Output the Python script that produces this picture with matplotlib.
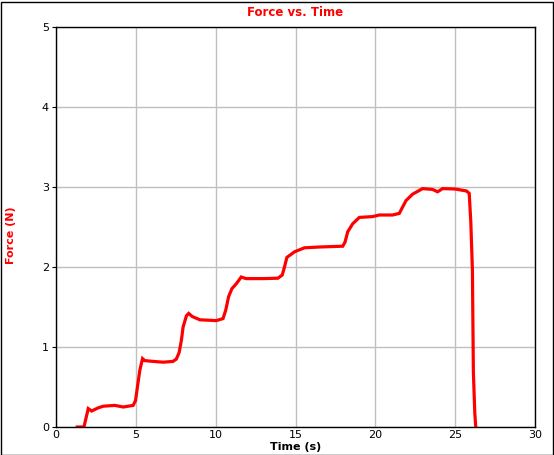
import matplotlib
matplotlib.use('Agg')
import matplotlib.pyplot as plt
from matplotlib.patches import Rectangle

# values
time_s = [1.33, 1.75, 2.02, 2.23, 2.65, 2.96, 3.69, 4.21, 4.83, 4.98, 5.10, 5.25,
          5.42, 5.56, 6.08, 6.71, 7.33, 7.54, 7.71, 7.85, 7.96, 8.17, 8.31, 8.54,
          8.90, 9.00, 10.04, 10.46, 10.63, 10.81, 11.02, 11.29, 11.60, 11.90, 12.96,
          13.90, 14.17, 14.31, 14.46, 14.94, 15.56, 16.50, 17.96, 18.10, 18.27, 18.58,
          19.00, 19.83, 20.25, 21.08, 21.50, 21.71, 21.92, 22.33, 22.96, 23.58, 23.90,
          24.21, 25.00, 25.71, 25.88, 25.98, 26.08, 26.14, 26.23, 26.29]
force_n = [0.00, 0.00, 0.23, 0.20, 0.24, 0.26, 0.27, 0.25, 0.27, 0.33, 0.50, 0.71,
           0.855, 0.83, 0.82, 0.81, 0.82, 0.85, 0.93, 1.08, 1.25, 1.39, 1.42, 1.38,
           1.35, 1.34, 1.33, 1.355, 1.46, 1.63, 1.73, 1.79, 1.875, 1.855, 1.855,
           1.86, 1.90, 2.00, 2.12, 2.19, 2.24, 2.25, 2.26, 2.31, 2.44, 2.54,
           2.62, 2.63, 2.65, 2.65, 2.67, 2.75, 2.83, 2.91, 2.98, 2.97, 2.94,
           2.98, 2.975, 2.95, 2.92, 2.56, 1.96, 0.69, 0.17, 0.00]
x_ticks = [0, 5, 10, 15, 20, 25, 30]
y_ticks = [0, 1, 2, 3, 4, 5]

W, H = 554, 455
fig = plt.figure(figsize=(W / 100, H / 100), dpi=100)
ax = fig.add_axes([56 / W, 1 - 427 / H, (535 - 56) / W, (427 - 27) / H])

ax.plot(time_s, force_n, color='#ff0000', lw=2.3, solid_joinstyle='miter')
ax.set_xlim(0, 30)
ax.set_ylim(0, 5)
ax.set_xticks(x_ticks)
ax.set_yticks(y_ticks)
ax.grid(True, color='#c0c0c0', lw=1)
ax.set_axisbelow(True)
for s in ax.spines.values():
    s.set_color('black')
    s.set_linewidth(1)
ax.tick_params(axis='y', direction='out', length=3, pad=2, labelsize=8)
ax.tick_params(axis='x', direction='out', length=0, pad=2, labelsize=8)

ax.set_title('Force vs. Time', color='#ff0000', fontweight='bold', fontsize=8.5, pad=8)
fig.text(295.5 / W, 1 - 447 / H, 'Time (s)', ha='center', va='center',
         fontweight='bold', fontsize=8)
fig.text(11 / W, 1 - 235 / H, 'Force (N)', ha='center', va='center', rotation=90,
         color='#ff0000', fontweight='bold', fontsize=8)

# window border
fig.patches.append(Rectangle((0.5 / W, 0.5 / H), 1 - 2 / W, 1 - 2 / H,
                             transform=fig.transFigure, fill=False,
                             edgecolor='black', lw=1))

fig.savefig('out.png', dpi=100)
